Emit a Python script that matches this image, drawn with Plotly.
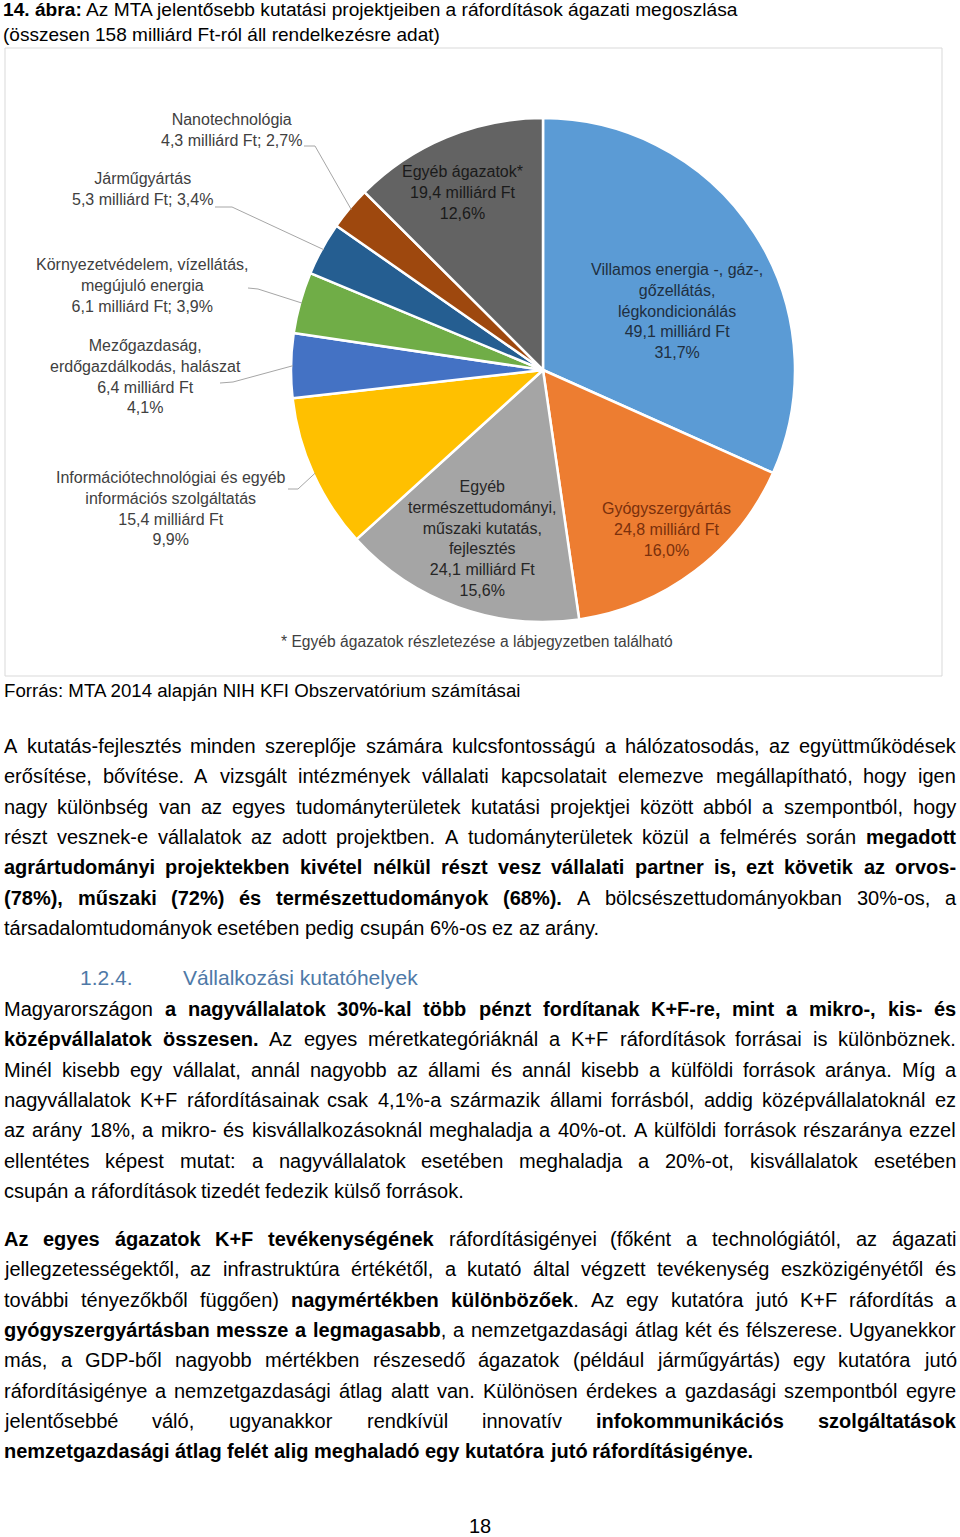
import math
import unicodedata
import plotly.graph_objects as go

W_PX, H_PX = 960, 1537

# ---------------- data ----------------
sector_lines = [
    ["Villamos energia -, gáz-,", "gőzellátás,", "légkondicionálás"],
    ["Gyógyszergyártás"],
    ["Egyéb", "természettudományi,", "műszaki kutatás,", "fejlesztés"],
    ["Információtechnológiai és egyéb", "információs szolgáltatás"],
    ["Mezőgazdaság,", "erdőgazdálkodás, halászat"],
    ["Környezetvédelem, vízellátás,", "megújuló energia"],
    ["Járműgyártás"],
    ["Nanotechnológia"],
    ["Egyéb ágazatok*"],
]
values_bn = [49.1, 24.8, 24.1, 15.4, 6.4, 6.1, 5.3, 4.3, 19.4]
percent_labels = ["31,7%", "16,0%", "15,6%", "9,9%", "4,1%", "3,9%", "3,4%", "2,7%", "12,6%"]
value_inline = [False, False, False, False, False, True, True, True, False]
slice_colors = ["#5B9BD5", "#ED7D31", "#A5A5A5", "#FFC000", "#4472C4",
                "#70AD47", "#255E91", "#9E480E", "#636363"]
label_colors = ["#1F2F40", "#7A300C", "#262626", "#404040", "#404040",
                "#404040", "#404040", "#404040", "#1A1A1A"]

title_lines = ["**14. ábra:** Az MTA jelentősebb kutatási projektjeiben a ráfordítások ágazati megoszlása",
               "(összesen 158 milliárd Ft-ról áll rendelkezésre adat)"]
footnote = "* Egyéb ágazatok részletezése a lábjegyzetben található"
source = "Forrás: MTA 2014 alapján NIH KFI Obszervatórium számításai"
heading_num = "1.2.4."
heading_text = "Vállalkozási kutatóhelyek"
page_number = "18"

para1 = [
    "A kutatás-fejlesztés minden szereplője számára kulcsfontosságú a hálózatosodás, az együttműködések",
    "erősítése, bővítése. A vizsgált intézmények vállalati kapcsolatait elemezve megállapítható, hogy igen",
    "nagy különbség van az egyes tudományterületek kutatási projektjei között abból a szempontból, hogy",
    "részt vesznek-e vállalatok az adott projektben. A tudományterületek közül a felmérés során **megadott**",
    "**agrártudományi projektekben kivétel nélkül részt vesz vállalati partner is, ezt követik az orvos-**",
    "**(78%), műszaki (72%) és természettudományok (68%).** A bölcsészettudományokban 30%-os, a",
    "társadalomtudományok esetében pedig csupán 6%-os ez az arány.",
]
para2 = [
    "Magyarországon **a nagyvállalatok 30%-kal több pénzt fordítanak K+F-re, mint a mikro-, kis- és**",
    "**középvállalatok összesen.** Az egyes méretkategóriáknál a K+F ráfordítások forrásai is különböznek.",
    "Minél kisebb egy vállalat, annál nagyobb az állami és annál kisebb a külföldi források aránya. Míg a",
    "nagyvállalatok K+F ráfordításainak csak 4,1%-a származik állami forrásból, addig középvállalatoknál ez",
    "az arány 18%, a mikro- és kisvállalkozásoknál meghaladja a 40%-ot. A külföldi források részaránya ezzel",
    "ellentétes képest mutat: a nagyvállalatok esetében meghaladja a 20%-ot, kisvállalatok esetében",
    "csupán a ráfordítások tizedét fedezik külső források.",
]
para3 = [
    "**Az egyes ágazatok K+F tevékenységének** ráfordításigényei (főként a technológiától, az ágazati",
    "jellegzetességektől, az infrastruktúra értékétől, a kutató által végzett tevékenység eszközigényétől és",
    "további tényezőkből függően) **nagymértékben különbözőek**. Az egy kutatóra jutó K+F ráfordítás a",
    "**gyógyszergyártásban messze a legmagasabb**, a nemzetgazdasági átlag két és félszerese. Ugyanekkor",
    "más, a GDP-ből nagyobb mértékben részesedő ágazatok (például járműgyártás) egy kutatóra jutó",
    "ráfordításigénye a nemzetgazdasági átlag alatt van. Különösen érdekes a gazdasági szempontból egyre",
    "jelentősebbé váló, ugyanakkor rendkívül innovatív **infokommunikációs szolgáltatások**",
    "**nemzetgazdasági átlag felét alig meghaladó egy kutatóra jutó ráfordításigénye.**",
]

# ---------------- font metrics (Liberation Sans = Arial metrics) ----------------
REG = {' ': 278, '%': 889, '(': 333, ')': 333, '*': 389, '+': 584, ',': 278, '-': 333,
       '.': 278, ':': 278, ';': 278, '/': 278}
BLD = {' ': 278, '%': 889, '(': 333, ')': 333, '*': 389, '+': 584, ',': 278, '-': 333,
       '.': 278, ':': 333, ';': 333, '/': 278}
for d in "0123456789":
    REG[d] = 556
    BLD[d] = 556
_ru = [667, 667, 722, 722, 667, 611, 778, 722, 278, 500, 667, 556, 833, 722, 778, 667, 778,
       722, 667, 611, 722, 667, 944, 667, 667, 611]
_rl = [556, 556, 500, 556, 556, 278, 556, 556, 222, 222, 500, 222, 833, 556, 556, 556, 556,
       333, 500, 278, 556, 500, 722, 500, 500, 500]
_bu = [722, 722, 722, 722, 667, 611, 778, 722, 278, 556, 722, 611, 833, 722, 778, 667, 778,
       722, 667, 611, 722, 667, 944, 667, 667, 611]
_bl = [556, 611, 556, 611, 556, 333, 611, 611, 278, 278, 556, 278, 889, 611, 611, 611, 611,
       389, 556, 333, 611, 556, 778, 556, 556, 500]
for i in range(26):
    REG[chr(65 + i)] = _ru[i]
    REG[chr(97 + i)] = _rl[i]
    BLD[chr(65 + i)] = _bu[i]
    BLD[chr(97 + i)] = _bl[i]


def base(c):
    return unicodedata.normalize('NFD', c)[0]


def em(s, bold=False):
    t = BLD if bold else REG
    return sum(t.get(base(c), 556) for c in s) / 1000.0


def runs_of(line):
    parts = line.split('**')
    return [(p, i % 2 == 1) for i, p in enumerate(parts) if p]


def words_of(line):
    words = [[]]
    for text, b in runs_of(line):
        pieces = text.split(' ')
        for k, piece in enumerate(pieces):
            if k > 0:
                words.append([])
            if piece:
                words[-1].append((piece, b))
    return [w for w in words if w]


def html_of(runs):
    return ''.join(f"<b>{p}</b>" if b else p for p, b in runs)


def px_x(x):
    return x / W_PX


def px_y(y):
    return 1 - y / H_PX


annotations = []
shapes = []
FONT = "Liberation Sans"


def add_text(x, y, text, size, color="#000000", xanchor="left", family=FONT):
    annotations.append(dict(x=px_x(x), y=px_y(y), xref="paper", yref="paper",
                            text=text, showarrow=False, xanchor=xanchor, yanchor="middle",
                            borderpad=0, borderwidth=0, align="center",
                            font=dict(family=family, size=size, color=color)))


# ---------------- body text with justification ----------------
LEFT, RIGHT = 4.0, 956.0
TEXT_W = RIGHT - LEFT
paragraphs = [(para1, 746.0), (para2, 1009.0), (para3, 1239.0)]
PITCH = 30.35

max_em = 0
for para, _ in paragraphs:
    for line in para[:-1]:
        ws = words_of(line)
        tot = sum(em(p, b) for w in ws for p, b in w) + 0.278 * (len(ws) - 1)
        max_em = max(max_em, tot)
BODY = min(20.0, (TEXT_W - 4) / max_em)

for para, y0 in paragraphs:
    for i, line in enumerate(para):
        y = y0 + i * PITCH
        ws = words_of(line)
        widths = [sum(em(p, b) for p, b in w) * BODY for w in ws]
        last = (i == len(para) - 1)
        if last or len(ws) == 1:
            gap = 0.278 * BODY
        else:
            gap = (TEXT_W - sum(widths)) / (len(ws) - 1)
        x = LEFT
        for w, wd in zip(ws, widths):
            add_text(x, y, html_of(w), BODY)
            x += wd + gap

# ---------------- title / captions ----------------
for line, y, target in zip(title_lines, [10, 34], [737, 437]):
    r = runs_of(line)
    e = sum(em(p, b) for p, b in r)
    add_text(3, y, html_of(r), min(BODY, target / e))

add_text(4, 690, source, 518 / em(source))
add_text(80, 977, heading_num, 21, color="#4E79A7")
add_text(183, 977, heading_text, 21, color="#4E79A7")
add_text(480, 1526, page_number, BODY, xanchor="center")

# ---------------- chart box ----------------
shapes.append(dict(type="rect", xref="paper", yref="paper",
                   x0=px_x(5), x1=px_x(942), y0=px_y(676), y1=px_y(48),
                   line=dict(color="#D9D9D9", width=1), fillcolor="rgba(0,0,0,0)", layer="below"))

# ---------------- pie ----------------
CX, CY, R = 543.0, 370.0, 252.0
pie_names = [" ".join(l) for l in sector_lines]
fig = go.Figure(go.Pie(
    labels=pie_names, values=values_bn, sort=False, direction="clockwise", rotation=0,
    marker=dict(colors=slice_colors, line=dict(color="#FFFFFF", width=2.5)),
    textinfo="none", hoverinfo="skip", showlegend=False,
    domain=dict(x=[px_x(CX - R), px_x(CX + R)], y=[px_y(CY + R), px_y(CY - R)]),
))

# slice labels
label_pos = [(677, 311), (666, 529.5), (482, 538), (171, 508.5), (145, 377),
             (142, 285.5), (142, 189.5), (231, 130.5), (462, 192)]
for i in range(len(values_bn)):
    val = f"{values_bn[i]:.1f}".replace('.', ',') + " milliárd Ft"
    lines = list(sector_lines[i])
    if value_inline[i]:
        lines.append(f"{val}; {percent_labels[i]}")
    else:
        lines += [val, percent_labels[i]]
    lx, ly = label_pos[i]
    add_text(lx, ly, "<br>".join(lines), 16, color=label_colors[i], xanchor="center")

add_text(477, 641, footnote, 392 / em(footnote), color="#404040", xanchor="center")

# leader lines for outside labels: index -> (start px, elbow px)
leaders = {3: ((288, 489), (298, 489)), 4: ((220, 383), (233, 382)),
           5: ((248, 288), (258, 289)), 6: ((215, 207), (232, 207)),
           7: ((304, 146), (315, 146))}
total = sum(values_bn)
cum = 0.0
mids = []
for v in values_bn:
    mids.append((cum + v / 2) / total * 2 * math.pi)
    cum += v
for i, ((sx, sy), (ex, ey)) in leaders.items():
    a = mids[i]
    tx = CX + (R - 2) * math.sin(a)
    ty = CY - (R - 2) * math.cos(a)
    path = (f"M {px_x(sx)},{px_y(sy)} L {px_x(ex)},{px_y(ey)} L {px_x(tx)},{px_y(ty)}")
    shapes.append(dict(type="path", xref="paper", yref="paper", path=path,
                       line=dict(color="#A6A6A6", width=1)))

fig.update_layout(
    width=W_PX, height=H_PX, margin=dict(l=0, r=0, t=0, b=0),
    paper_bgcolor="#FFFFFF", plot_bgcolor="#FFFFFF",
    font=dict(family=FONT, color="#000000"),
    annotations=annotations, shapes=shapes, showlegend=False,
)

fig.write_html("out.html", config={"displayModeBar": False},
               post_script="document.body.style.margin='0';document.body.style.overflow='hidden';")
